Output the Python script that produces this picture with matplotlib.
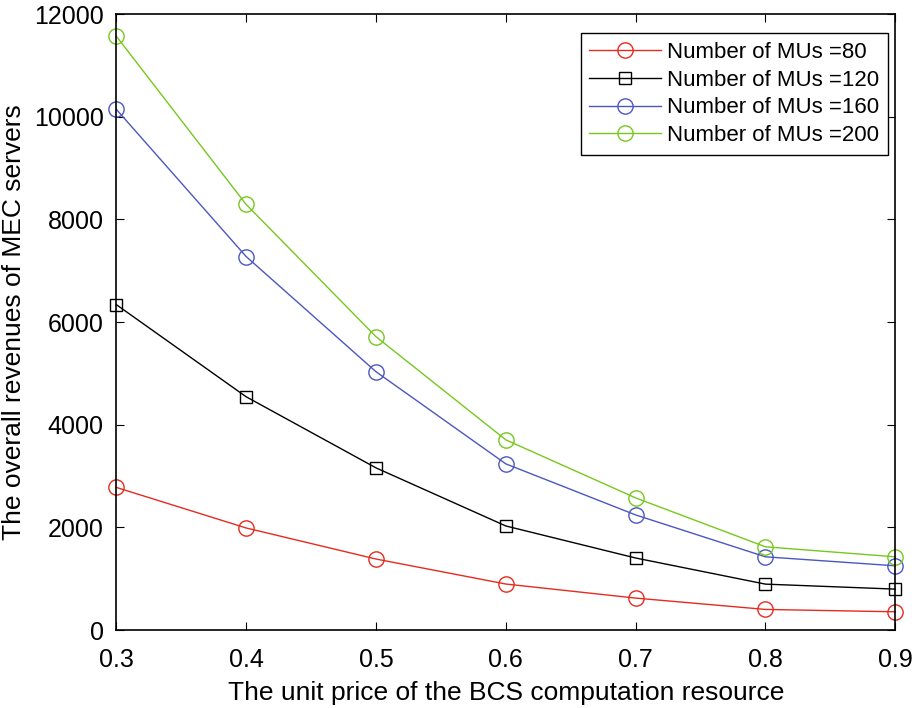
import matplotlib
matplotlib.use("Agg")
import matplotlib.pyplot as plt

plt.rcParams['font.family'] = ['Liberation Sans', 'DejaVu Sans']

# Daten
price = [0.3, 0.4, 0.5, 0.6, 0.7, 0.8, 0.9]
rev_80 = [2780, 1990, 1385, 898, 624, 403, 357]
rev_120 = [6341, 4546, 3161, 2029, 1405, 896, 799]
rev_160 = [10146, 7278, 5034, 3239, 2244, 1428, 1253]
rev_200 = [11570, 8293, 5717, 3707, 2576, 1623, 1428]

fig = plt.figure(figsize=(9.16, 7.08), dpi=100)
ax = fig.add_axes([0.127, 0.110, 0.8504, 0.870])

kw = dict(markersize=11, markerfacecolor='none', linewidth=1, clip_on=False)
ax.plot(price, rev_80, color='#e52b20', marker='o', label='Number of MUs =80', **kw)
ax.plot(price, rev_120, color='black', marker='s', label='Number of MUs =120',
        **{**kw, 'markersize': 9})
ax.plot(price, rev_160, color='#4b57c0', marker='o', label='Number of MUs =160', **kw)
ax.plot(price, rev_200, color='#76c81e', marker='o', label='Number of MUs =200', **kw)

ax.set_xlim(0.3, 0.9)
ax.set_ylim(0, 12000)
ax.set_xticks(price)
ax.set_xticklabels(['0.3', '0.4', '0.5', '0.6', '0.7', '0.8', '0.9'])
ax.set_yticks(range(0, 12001, 2000))
ax.tick_params(direction='in', top=True, right=True, labelsize=18, length=6)
ax.tick_params(axis='x', pad=13)
ax.tick_params(axis='y', pad=9)
for s in ax.spines.values():
    s.set_linewidth(1.2)

ax.set_xlabel('The unit price of the BCS computation resource', fontsize=19, labelpad=6)
ax.set_ylabel('The overall revenues of MEC servers', fontsize=19, labelpad=6)

leg = ax.legend(loc='upper right', bbox_to_anchor=(0.991, 0.969), borderaxespad=0,
                fontsize=16, fancybox=False, edgecolor='black', framealpha=1,
                handlelength=3.2, labelspacing=0.3, handletextpad=0.3, borderpad=0.4)
leg.get_frame().set_linewidth(1.0)

fig.savefig('out.png', dpi=100)
